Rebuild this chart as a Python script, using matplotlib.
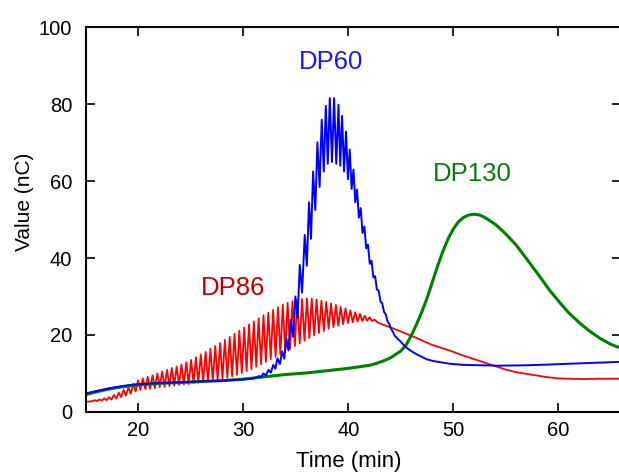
import matplotlib
matplotlib.use("Agg")
import matplotlib.pyplot as plt
import numpy as np

plt.rcParams['font.family'] = ['Liberation Sans', 'DejaVu Sans']

# DP60 (blue) - time (min) / value (nC)
dp60_t = [15.0, 16.0, 17.0, 18.0, 19.0, 20.0, 22.0, 24.0, 26.0, 28.0, 30.0, 31.0,
          31.5, 31.7, 31.9, 32.15, 32.4, 32.62, 32.85, 33.05, 33.25, 33.48,
          33.7, 33.9, 34.1, 34.3, 34.52, 34.74, 34.96, 35.17, 35.38, 35.6,
          35.85, 36.05, 36.26, 36.45, 36.65, 36.86, 37.06, 37.27, 37.47, 37.67,
          37.86, 38.05, 38.24, 38.45, 38.65, 38.86, 39.07, 39.24, 39.41, 39.6,
          39.79, 39.97, 40.14, 40.32, 40.5, 40.67, 40.84, 41.01, 41.19, 41.36,
          41.54, 41.71, 41.88, 42.05, 42.22, 42.39, 42.56, 42.73, 42.9, 43.07,
          43.24, 43.41, 43.58, 43.75, 43.92, 44.09, 44.26, 44.43,
          44.9, 45.5, 46.0, 46.5, 47.45, 48.1, 49.7, 51.0, 54.4, 57.0, 59.2, 62.0, 66.0]
dp60_v = [4.8, 5.4, 6.0, 6.5, 6.9, 7.2, 7.5, 7.7, 7.9, 8.1, 8.4, 8.7,
          9.3, 9.0, 10.0, 9.5, 10.9, 10.2, 12.2, 11.2, 13.9, 12.4,
          15.7, 13.8, 19.1, 16.0, 23.9, 19.5, 30.0, 24.5, 38.2, 31.0,
          46.0, 38.0, 54.5, 45.0, 62.5, 52.5, 70.1, 58.5, 76.0, 62.5,
          79.6, 64.5, 81.6, 65.0, 81.6, 64.5, 79.9, 64.0, 77.0, 62.5,
          72.9, 60.5, 68.2, 58.0, 63.0, 54.5, 57.8, 50.5, 53.0, 46.5,
          48.2, 42.5, 43.5, 38.5, 39.3, 35.0, 35.3, 31.8, 31.5, 28.7,
          28.2, 26.0, 25.3, 23.5, 22.8, 21.5, 20.8, 19.8,
          18.5, 16.8, 15.8, 15.0, 13.7, 13.2, 12.5, 12.2, 12.0, 12.1, 12.3, 12.6, 13.0]

# DP86 (red)
dp86_t = [15.0, 15.5, 15.82, 16.05, 16.28, 16.51, 16.74, 16.97,
          17.2, 17.43, 17.66, 17.89, 18.12, 18.35, 18.58, 18.81, 19.04, 19.27,
          19.5, 19.73, 19.96, 20.19, 20.42, 20.65, 20.88, 21.11, 21.34, 21.57,
          21.8, 22.03, 22.26, 22.49, 22.72, 22.95, 23.18, 23.41, 23.64, 23.87,
          24.1, 24.33, 24.56, 24.79, 25.02, 25.25, 25.48, 25.71, 25.94, 26.17,
          26.4, 26.63, 26.86, 27.09, 27.32, 27.55, 27.78, 28.01, 28.24, 28.47,
          28.7, 28.93, 29.16, 29.39, 29.62, 29.85, 30.08, 30.31, 30.54, 30.77,
          31.0, 31.23, 31.46, 31.69, 31.92, 32.15, 32.38, 32.61, 32.84, 33.07,
          33.3, 33.53, 33.76, 33.99, 34.22, 34.45, 34.68, 34.91, 35.14, 35.37,
          35.6, 35.83, 36.06, 36.29, 36.52, 36.75, 36.98, 37.21, 37.44, 37.67,
          37.9, 38.13, 38.36, 38.59, 38.82, 39.05, 39.28, 39.51, 39.74, 39.97,
          40.2, 40.43, 40.66, 40.89, 41.12, 41.35, 41.58, 41.81, 42.04, 42.27,
          42.5, 42.73,
          43.0, 44.0, 45.0, 46.0, 47.0, 48.0, 49.7, 51.0, 52.0, 54.0, 55.0,
          56.0, 57.6, 59.0, 60.0, 62.4, 64.0, 66.0]
dp86_v = [2.6, 2.7, 3.0, 2.8, 3.2, 2.9, 3.5, 3.0,
          3.8, 3.2, 4.4, 3.4, 5.0, 3.8, 5.7, 4.2, 6.4, 4.7,
          7.3, 5.3, 8.2, 5.7, 8.7, 5.9, 9.1, 6.0, 9.5, 6.2,
          10.0, 6.4, 10.5, 6.5, 10.9, 6.7, 11.4, 6.8, 11.8, 7.0,
          12.3, 7.1, 12.9, 7.2, 13.5, 7.4, 14.2, 7.5, 14.9, 7.7,
          15.6, 7.9, 16.4, 8.1, 17.1, 8.3, 17.9, 8.6, 18.7, 8.9,
          19.5, 9.2, 20.3, 9.6, 21.1, 10.1, 21.9, 10.6, 22.7, 11.1,
          23.5, 11.7, 24.3, 12.4, 25.1, 13.0, 25.8, 13.7, 26.5, 14.3,
          27.2, 14.9, 27.9, 15.6, 28.4, 16.3, 28.8, 17.1, 29.2, 17.8,
          29.3, 18.5, 29.5, 19.2, 29.4, 19.9, 29.2, 20.5, 28.9, 21.0,
          28.6, 21.6, 28.2, 22.0, 27.8, 22.4, 27.3, 22.8, 26.9, 23.1,
          26.4, 23.3, 25.9, 23.5, 25.5, 23.6, 25.0, 23.7, 24.6, 23.6,
          24.0, 23.4,
          23.0, 22.0, 20.9, 19.8, 18.6, 17.4, 15.9, 14.6, 13.7, 11.9, 11.0,
          10.3, 9.6, 9.0, 8.7, 8.5, 8.6, 8.6]

# DP130 (green)
dp130_t = [15.0, 16.0, 17.0, 18.0, 19.0, 20.0, 22.0, 24.0, 26.0, 28.0, 30.0, 31.0,
           32.0, 33.0, 34.0, 35.0, 36.0, 37.0, 38.0, 39.0, 40.0, 41.0, 42.0,
           42.7, 43.5, 44.0, 44.5, 45.0, 45.5, 46.0, 46.5, 47.0, 47.45, 48.0,
           48.5, 49.0, 49.5, 50.0, 50.5, 51.0, 51.5, 52.0, 52.5, 53.0, 53.5,
           54.1, 55.0, 56.0, 57.0, 58.25, 59.2, 60.2, 61.0, 62.1, 63.0, 64.0,
           65.0, 66.0]
dp130_v = [4.5, 5.2, 5.8, 6.3, 6.7, 7.0, 7.4, 7.6, 7.9, 8.1, 8.5, 8.8,
           9.1, 9.4, 9.7, 9.9, 10.1, 10.4, 10.7, 11.0, 11.3, 11.7, 12.1,
           12.6, 13.4, 14.0, 14.9, 15.8, 17.3, 19.8, 22.7, 25.9, 29.1, 33.6,
           37.8, 41.6, 44.9, 47.5, 49.4, 50.6, 51.2, 51.4, 51.2, 50.6, 49.7,
           48.6, 46.3, 43.4, 39.8, 35.2, 31.6, 28.3, 25.8, 23.0, 21.0, 19.1,
           17.6, 16.5]

fig = plt.figure(figsize=(6.19, 4.75), dpi=100)
ax = fig.add_axes([86/619, 63.2/475, 535/619, 384.4/475])

ax.plot(dp86_t, dp86_v, color='#ff0000', lw=1.3)
ax.plot(dp130_t, dp130_v, color='#008000', lw=2.2)
ax.plot(dp60_t, dp60_v, color='#0000ff', lw=1.4)

# labels on the peaks
ax.text(38.33, 91.1, 'DP60', color='#1a1ae6', fontsize=18.5, ha='center', va='center')
ax.text(51.87, 61.9, 'DP130', color='#0b7a0b', fontsize=18.5, ha='center', va='center')
ax.text(29.0, 32.2, 'DP86', color='#c00000', fontsize=18.5, ha='center', va='center')

ax.set_xlim(15, 66)
ax.set_ylim(0, 100)
ax.set_xticks([20, 30, 40, 50, 60])
ax.set_yticks([0, 20, 40, 60, 80, 100])
ax.tick_params(direction='in', top=True, right=True, length=6.5, width=1.2,
               labelsize=14.5)
ax.tick_params(axis='x', pad=6.5)
ax.tick_params(axis='y', pad=10)
for s in ax.spines.values():
    s.set_linewidth(1.5)

ax.set_xlabel('Time (min)', fontsize=16)
ax.set_ylabel('Value (nC)', fontsize=15)
ax.xaxis.set_label_coords(0.4916, -0.102)
ax.yaxis.set_label_coords(-0.097, 0.545)

fig.savefig('out.png', dpi=100)
